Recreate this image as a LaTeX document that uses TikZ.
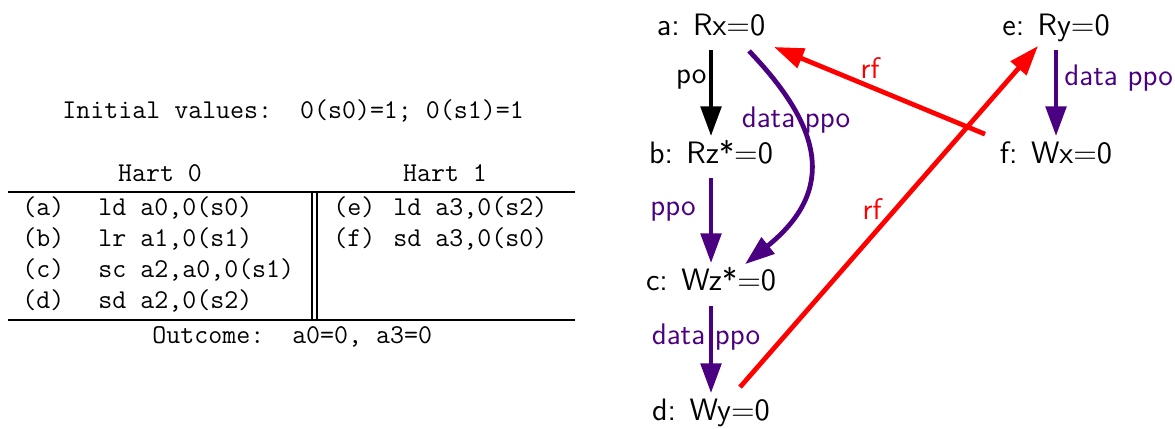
\documentclass[tikz,border=0pt]{standalone}
\usepackage{fontspec}
\usetikzlibrary{arrows.meta}
\definecolor{ppocol}{RGB}{75,0,130}
\definecolor{rfcol}{RGB}{255,0,0}
\begin{document}
\begin{tikzpicture}[x=0.42pt,y=-0.42pt,
  tt/.style={font=\fontsize{11.4}{13}\selectfont\ttfamily, inner sep=0, anchor=base west},
  ev/.style={font=\fontsize{13}{15}\selectfont\sffamily, inner sep=0, text height=0.72em, text depth=0.22em},
  lbl/.style={font=\fontsize{12.5}{14}\selectfont\sffamily, inner sep=0},
  rule/.style={line width=0.5pt},
  edge/.style={line width=2pt, -{Triangle[length=12.5pt,width=8.5pt]}},
  shortv/.style={shorten <=4pt, shorten >=4pt}]
\useasboundingbox (0,0) rectangle (1175,428);

% ---- table ----
\node[tt] (init) at (62,118) {Initial values:\ \ 0(s0)=1; 0(s1)=1};
\node[tt,anchor=base] (h0) at (160,181) {Hart 0};
\node[tt,anchor=base] (h1) at (445,181) {Hart 1};
\draw[rule] (8,192) -- (575,192);
\draw[rule] (8,320) -- (575,320);
\draw[rule] (312,192) -- (312,320);
\draw[rule] (317,192) -- (317,320);
\node[tt] (la) at (22,215) {(a)};
\node[tt] (ia) at (98,215) {ld a0,0(s0)};
\node[tt] (lb) at (22,246) {(b)};
\node[tt] (ib) at (98,246) {lr a1,0(s1)};
\node[tt] (lc) at (22,277) {(c)};
\node[tt] (ic) at (98,277) {sc a2,a0,0(s1)};
\node[tt] (ld) at (22,308) {(d)};
\node[tt] (id) at (98,308) {sd a2,0(s2)};
\node[tt] (le) at (333,215) {(e)};
\node[tt] (ie) at (393,215) {ld a3,0(s2)};
\node[tt] (lf) at (333,246) {(f)};
\node[tt] (if) at (393,246) {sd a3,0(s0)};
\node[tt] (out) at (152,343) {Outcome:\ \ a0=0, a3=0};

% ---- graph ----
\node[ev] (a) at (711,29.3) {a: Rx=0};
\node[ev] (b) at (711,157.3) {b: Rz*=0};
\node[ev] (c) at (711,284.3) {c: Wz*=0};
\node[ev] (d) at (711,414.3) {d: Wy=0};
\node[ev] (e) at (1056,29.3) {e: Ry=0};
\node[ev] (f) at (1056,157.3) {f: Wx=0};

\draw[edge,shortv,black] (a) -- (b);
\draw[edge,shortv,ppocol] (b) -- (c);
\draw[edge,shortv,ppocol] (c) -- (d);
\draw[edge,shortv,ppocol] (e) -- (f);

\draw[edge,ppocol] ([shift={(38,10)}]a.south) .. controls (822,127) and (837,190) .. ([shift={(34,-8.5)}]c.north);

\draw[edge,rfcol] ([shift={(-71,-11.5)}]f.north) -- ([shift={(63,6)}]a.south);
\draw[edge,rfcol] ([shift={(29,-15.5)}]d.north) -- ([shift={(-18,5)}]e.south);

\node[lbl,anchor=east] (lpo) at (707,80) {po};
\node[lbl,text=ppocol] (ldp1) at (796,120) {data ppo};
\node[lbl,text=ppocol] (lppo) at (673,212) {ppo};
\node[lbl,text=ppocol] (ldp2) at (706,337) {data ppo};
\node[lbl,text=ppocol,anchor=west] (ldp3) at (1064,78) {data ppo};
\node[lbl,text=rfcol] (lrf1) at (870,68) {rf};
\node[lbl,text=rfcol] (lrf2) at (872,209) {rf};
\end{tikzpicture}
\end{document}
